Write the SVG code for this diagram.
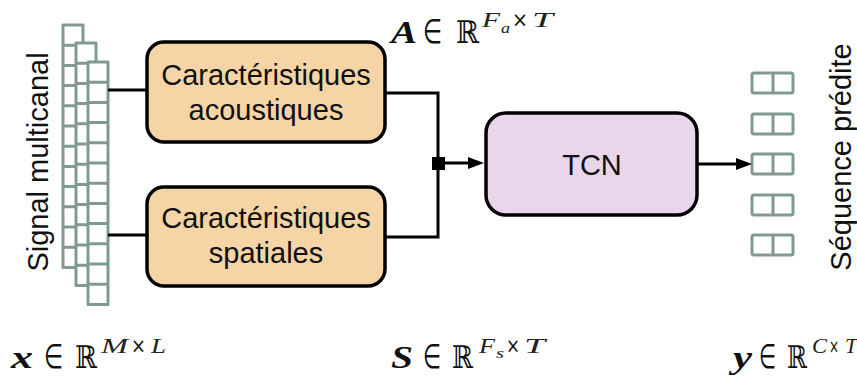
<svg xmlns="http://www.w3.org/2000/svg" xmlns:xlink="http://www.w3.org/1999/xlink" width="857" height="376" viewBox="0 0 857 376">
<style>
.cell{fill:#fff;stroke:#809a8f;stroke-width:3;stroke-linejoin:round}
.box{stroke:#000;stroke-width:3.5}
.lbl{font-family:"Liberation Sans",Arial,sans-serif;font-size:29px;fill:#111;text-anchor:middle}
.conn{stroke:#000;stroke-width:3;fill:none}
.mb{font-family:"Liberation Serif",serif;font-weight:bold;font-style:italic;fill:#111}
.mi{font-family:"Liberation Serif",serif;font-weight:normal;font-style:italic;fill:#222}
.ms{font-family:"DejaVu Serif","Liberation Serif",serif;font-weight:normal;fill:#111}
.el{font-family:"DejaVu Sans","Liberation Serif",serif;font-weight:normal;fill:#111}
</style>
<defs>
<g id="col">
<rect class="cell" x="0" y="0" width="20" height="242.4"/>
<path class="cell" d="M0,20.2H20M0,40.4H20M0,60.6H20M0,80.8H20M0,101H20M0,121.2H20M0,141.4H20M0,161.6H20M0,181.8H20M0,202H20M0,222.2H20"/>
</g>
<g id="pair">
<rect class="cell" x="0" y="0" width="41" height="20" rx="2"/>
<path class="cell" d="M21,0V20"/>
</g>
</defs>

<g id="signal">
<use xlink:href="#col" x="63" y="25"/>
<use xlink:href="#col" x="76" y="43"/>
<use xlink:href="#col" x="88" y="62"/>
<text class="lbl" font-size="28" transform="translate(48,162) rotate(-90)">Signal multicanal</text>
</g>

<g id="acoustic">
<rect class="box" x="147" y="42" width="238" height="100" rx="17" fill="#f5d4a6"/>
<text class="lbl" x="266" y="85">Caractéristiques</text>
<text class="lbl" x="266" y="120">acoustiques</text>
</g>

<g id="spatial">
<rect class="box" x="147" y="187" width="238" height="99" rx="17" fill="#f5d4a6"/>
<text class="lbl" x="266" y="228">Caractéristiques</text>
<text class="lbl" x="266" y="263">spatiales</text>
</g>

<g id="tcn">
<rect class="box" x="486" y="113" width="211" height="102" rx="20" fill="#e9d6eb"/>
<text class="lbl" x="592" y="175">TCN</text>
</g>

<g id="output">
<use xlink:href="#pair" x="752" y="73"/>
<use xlink:href="#pair" x="752" y="114"/>
<use xlink:href="#pair" x="752" y="154"/>
<use xlink:href="#pair" x="752" y="195"/>
<use xlink:href="#pair" x="752" y="235"/>
<text class="lbl" font-size="31.5" transform="translate(851,157) rotate(-90)">Séquence prédite</text>
</g>

<g id="connectors">
<path class="conn" d="M108,90H147"/>
<path class="conn" d="M108,235H147"/>
<path class="conn" d="M385,93H438V237H385"/>
<rect x="432" y="157" width="13" height="13" fill="#000"/>
<path class="conn" d="M445,163H470"/>
<polygon points="468,157 484,163 468,169" fill="#000"/>
<path class="conn" d="M697,164H738"/>
<polygon points="736,158 752,164 736,170" fill="#000"/>
</g>

<g id="labelA">
<text class="mb" x="391" y="43" font-size="32" textLength="26" lengthAdjust="spacingAndGlyphs">A</text>
<text class="el" x="423" y="43" font-size="34" textLength="19" lengthAdjust="spacingAndGlyphs">∈</text>
<text class="ms" x="456" y="43" font-size="31" textLength="23" lengthAdjust="spacingAndGlyphs">ℝ</text>
<text class="mi" x="482" y="27" font-size="22" textLength="18" lengthAdjust="spacingAndGlyphs">F</text>
<text class="mi" x="501" y="33" font-size="15" textLength="9" lengthAdjust="spacingAndGlyphs">a</text>
<text class="el" x="512" y="27" font-size="21" textLength="16" lengthAdjust="spacingAndGlyphs">×</text>
<text class="mi" x="532" y="27" font-size="22" textLength="21" lengthAdjust="spacingAndGlyphs">T</text>
</g>

<g id="labelX">
<text class="mb" x="11" y="368" font-size="32" textLength="22" lengthAdjust="spacingAndGlyphs">x</text>
<text class="el" x="44" y="368" font-size="34" textLength="19" lengthAdjust="spacingAndGlyphs">∈</text>
<text class="ms" x="75" y="368" font-size="31" textLength="22" lengthAdjust="spacingAndGlyphs">ℝ</text>
<text class="mi" x="101" y="353" font-size="22" textLength="27" lengthAdjust="spacingAndGlyphs">M</text>
<text class="el" x="131" y="353" font-size="21" textLength="15" lengthAdjust="spacingAndGlyphs">×</text>
<text class="mi" x="151" y="353" font-size="22" textLength="15" lengthAdjust="spacingAndGlyphs">L</text>
</g>

<g id="labelS">
<text class="mb" x="391" y="368" font-size="32" textLength="22" lengthAdjust="spacingAndGlyphs">S</text>
<text class="el" x="423" y="368" font-size="34" textLength="18" lengthAdjust="spacingAndGlyphs">∈</text>
<text class="ms" x="452" y="368" font-size="31" textLength="21" lengthAdjust="spacingAndGlyphs">ℝ</text>
<text class="mi" x="479" y="353" font-size="22" textLength="16" lengthAdjust="spacingAndGlyphs">F</text>
<text class="mi" x="496" y="358" font-size="15" textLength="8" lengthAdjust="spacingAndGlyphs">s</text>
<text class="el" x="506" y="353" font-size="21" textLength="14" lengthAdjust="spacingAndGlyphs">×</text>
<text class="mi" x="524" y="353" font-size="22" textLength="21" lengthAdjust="spacingAndGlyphs">T</text>
</g>

<g id="labelY">
<text class="mb" x="733" y="368" font-size="32" textLength="19" lengthAdjust="spacingAndGlyphs">y</text>
<text class="el" x="759" y="368" font-size="34" textLength="17" lengthAdjust="spacingAndGlyphs">∈</text>
<text class="ms" x="787" y="368" font-size="31" textLength="20" lengthAdjust="spacingAndGlyphs">ℝ</text>
<text class="mi" x="812" y="353" font-size="22" textLength="15" lengthAdjust="spacingAndGlyphs">C</text>
<text class="el" x="829" y="353" font-size="19" textLength="10" lengthAdjust="spacingAndGlyphs">×</text>
<text class="mi" x="845" y="353" font-size="22" textLength="12" lengthAdjust="spacingAndGlyphs">T</text>
</g>
</svg>
